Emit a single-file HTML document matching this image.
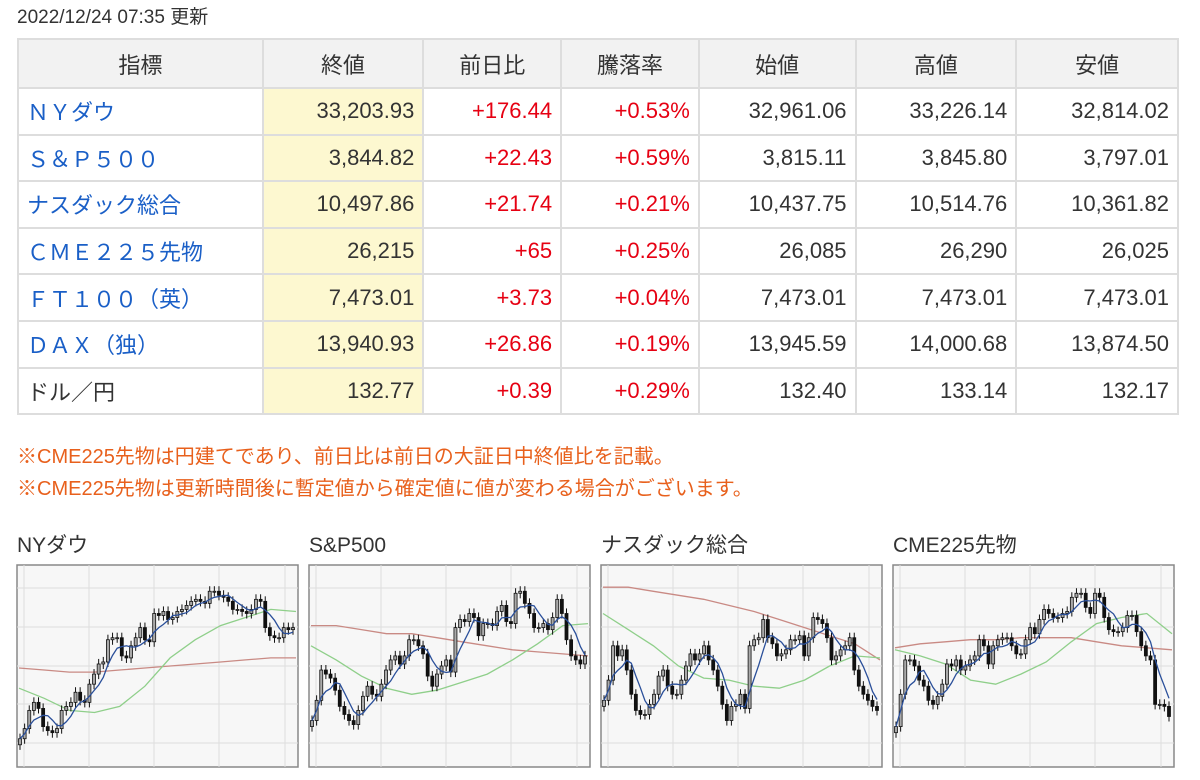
<!DOCTYPE html>
<html><head><meta charset="utf-8">
<style>
body{margin:0;width:1200px;height:780px;background:#fff;font-family:"Liberation Sans","Noto Sans CJK JP",sans-serif;color:#333;position:relative;overflow:hidden}
#date{position:absolute;left:17px;top:7px;font-size:19px;line-height:22px;color:#333}
table{position:absolute;left:17px;top:38px;border-collapse:collapse;width:1162px;font-size:22px}
td,th{border:2px solid #ddd;height:46.6px;padding:0 8px;white-space:nowrap;box-sizing:border-box}
th{background:#f2f2f2;font-weight:normal;text-align:center;height:49px}
td{text-align:right}
td.n{text-align:left;color:#1a5fc7}
td.n.k{color:#333}
td.c{background:#fdf8d0}
td.r{color:#e60012}
.note{position:absolute;left:17px;font-size:20px;line-height:24px;color:#e8601c}
.ct{position:absolute;top:534px;font-size:21px;line-height:24px;color:#333}
svg{position:absolute;left:0;top:0}
</style></head><body>
<div id="date">2022/12/24 07:35 更新</div>
<table>
<colgroup><col style="width:245px"><col style="width:161px"><col style="width:138px"><col style="width:138px"><col style="width:157px"><col style="width:161px"><col style="width:162px"></colgroup>
<tr><th>指標</th><th>終値</th><th>前日比</th><th>騰落率</th><th>始値</th><th>高値</th><th>安値</th></tr>
<tr><td class="n">ＮＹダウ</td><td class="c">33,203.93</td><td class="r">+176.44</td><td class="r">+0.53%</td><td>32,961.06</td><td>33,226.14</td><td>32,814.02</td></tr>
<tr><td class="n">Ｓ＆Ｐ５００</td><td class="c">3,844.82</td><td class="r">+22.43</td><td class="r">+0.59%</td><td>3,815.11</td><td>3,845.80</td><td>3,797.01</td></tr>
<tr><td class="n">ナスダック総合</td><td class="c">10,497.86</td><td class="r">+21.74</td><td class="r">+0.21%</td><td>10,437.75</td><td>10,514.76</td><td>10,361.82</td></tr>
<tr><td class="n">ＣＭＥ２２５先物</td><td class="c">26,215</td><td class="r">+65</td><td class="r">+0.25%</td><td>26,085</td><td>26,290</td><td>26,025</td></tr>
<tr><td class="n">ＦＴ１００（英）</td><td class="c">7,473.01</td><td class="r">+3.73</td><td class="r">+0.04%</td><td>7,473.01</td><td>7,473.01</td><td>7,473.01</td></tr>
<tr><td class="n">ＤＡＸ（独）</td><td class="c">13,940.93</td><td class="r">+26.86</td><td class="r">+0.19%</td><td>13,945.59</td><td>14,000.68</td><td>13,874.50</td></tr>
<tr><td class="n k">ドル／円</td><td class="c">132.77</td><td class="r">+0.39</td><td class="r">+0.29%</td><td>132.40</td><td>133.14</td><td>132.17</td></tr>
</table>
<div class="note" style="top:445px">※CME225先物は円建てであり、前日比は前日の大証日中終値比を記載。</div>
<div class="note" style="top:477px">※CME225先物は更新時間後に暫定値から確定値に値が変わる場合がございます。</div>
<div class="ct" style="left:17px">NYダウ</div>
<div class="ct" style="left:309px">S&amp;P500</div>
<div class="ct" style="left:601px">ナスダック総合</div>
<div class="ct" style="left:893px">CME225先物</div>
<svg id="charts" width="1200" height="780"></svg>
<script>
const dowClose=[14,19,28,32,29,20,18,17,19,28,30,32,37,33,32,41,46,51,52,63,64,64,55,54,60,64,69,63,62,76,75,77,73,74,77,78,80,82,83,82,81,87,87,85,84,82,78,78,77,76,78,83,82,69,65,64,64,69,68,69];
const dowLong=[49,48,47,47,48,49,50,51,52,53,54,54];
const dowMid=[39,34,28,27,30,40,54,63,70,74,78,77];
const spClose=[23,33,48,46,44,38,30,26,23,21,28,35,40,36,35,41,48,53,55,51,55,63,63,60,56,45,40,46,50,53,47,69,73,72,76,74,65,71,71,70,77,80,72,71,86,87,81,76,69,69,71,68,74,83,76,63,55,53,51,55];
const spLong=[70,70,68,66,66,64,62,60,58,57,56,55];
const spMid=[60,53,45,39,36,38,42,46,53,61,70,71];
const nqClose=[33,43,60,55,58,48,36,28,26,26,31,36,45,48,40,36,36,43,50,56,53,56,60,53,48,40,31,23,30,31,36,29,60,63,64,73,64,61,55,56,58,63,63,65,55,64,74,73,71,64,53,55,58,60,64,48,40,36,33,30,28];
const nqLong=[89,89,87,85,83,80,77,73,69,65,61,53];
const nqMid=[76,68,60,50,44,43,40,39,43,50,55,54];
const cmeClose=[20,36,53,53,50,43,40,33,31,35,41,51,50,53,48,50,53,55,63,60,51,60,63,64,64,60,56,56,63,69,66,73,78,76,74,74,76,77,84,86,86,79,76,86,84,74,68,67,67,69,75,75,67,60,55,53,31,31,30,25];
const cmeLong=[59,61,62,63,63,64,64,64,62,60,59,58];
const cmeMid=[58,55,51,43,41,46,52,62,71,74,76,66];

const svg=document.getElementById('charts');
const NS='http://www.w3.org/2000/svg';
function mk(tag,attrs,parent){const e=document.createElementNS(NS,tag);for(const k in attrs)e.setAttribute(k,attrs[k]);parent.appendChild(e);return e;}
function drawChart(name,left,closes,longMa,midMa){
  const top=565,W=281,H=202;
  const g=mk('g',{},svg);
  
  
  const bg=mk('rect',{x:left,y:top,width:W,height:H,fill:'#f7f7f7',stroke:'#888','stroke-width':1.5},g);
  
  
  [7,72,137,202,268].forEach(o=>{const l=mk('line',{x1:left+o,x2:left+o,y1:top,y2:top+H,stroke:'#ddd','stroke-width':1},g);
    });
  [23,62,101,139,178].forEach(o=>{const l=mk('line',{x1:left,x2:left+W,y1:top+o,y2:top+o,stroke:'#ddd','stroke-width':1},g);
    });
  const yS=v=>top+H-v*H/100;
  const n=closes.length;
  const xS=i=>left+3+i*(W-8)/(n-1);
  const xL=(i,m)=>left+2+i*(W-4)/(m-1);
  const line=(arr,col,nm,xf)=>{const p=mk('polyline',{points:arr.map((v,i)=>xf(i).toFixed(1)+','+yS(v).toFixed(1)).join(' '),fill:'none',stroke:col,'stroke-width':1.3},g);
    };
  line(longMa,'#c98a84',name+'-long-ma',i=>xL(i,longMa.length));
  line(midMa,'#8fcf8a',name+'-mid-ma',i=>xL(i,midMa.length));
  for(let i=0;i<n;i++){
    const c=closes[i],o=i?closes[i-1]:c-3;
    const hi=Math.max(o,c)+2.5,lo=Math.min(o,c)-2.5;
    const x=xS(i);
    const w=mk('line',{x1:x,x2:x,y1:yS(hi),y2:yS(lo),stroke:'#111','stroke-width':1},g);
    
    const y1=yS(Math.max(o,c)),y2=yS(Math.min(o,c));
    const b=mk('rect',{x:x-1.5,y:y1,width:3,height:Math.max(1,y2-y1),fill:c>=o?'#aaa':'#111',stroke:'#111','stroke-width':0.8},g);
    
  }
  const ma=[];
  for(let i=0;i<n;i++){let s=0,k=0;for(let j=Math.max(0,i-4);j<=i;j++){s+=closes[j];k++;}ma.push(s/k);}
  line(ma,'#2a4f9a',name+'-short-ma',xS);
}
drawChart('nydow',17,dowClose,dowLong,dowMid);
drawChart('sp500',309,spClose,spLong,spMid);
drawChart('nasdaq',601,nqClose,nqLong,nqMid);
drawChart('cme',893,cmeClose,cmeLong,cmeMid);
</script>
</body></html>
